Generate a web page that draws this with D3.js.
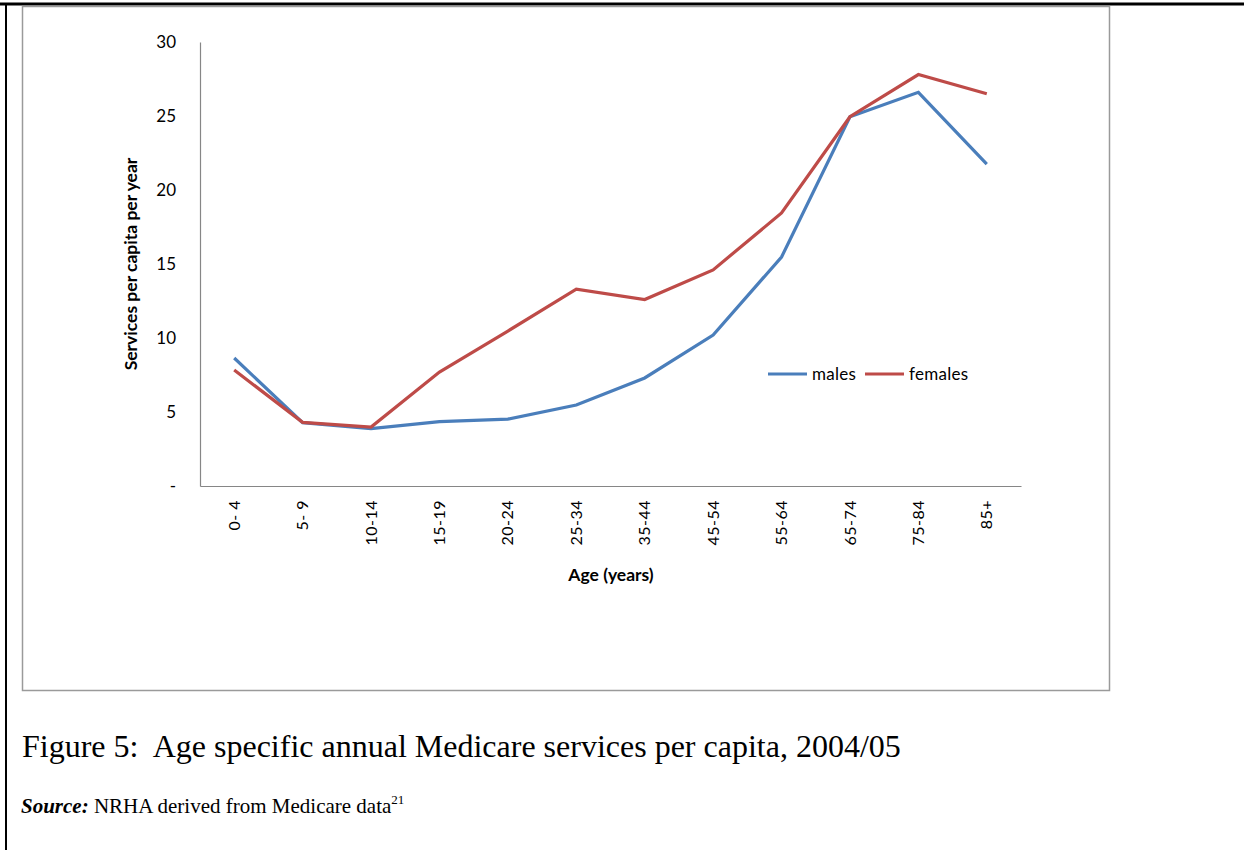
<!DOCTYPE html>
<html><head><meta charset="utf-8">
<script src="https://cdn.jsdelivr.net/npm/d3@7"></script>
<style>body{margin:0;background:#fff;} svg{display:block;}</style>
</head><body>
<svg id="c" width="1244" height="850"></svg>
<script>
const categories = ["0- 4","5- 9","10-14","15-19","20-24","25-34","35-44","45-54","55-64","65-74","75-84","85+"];
const males   = [8.65, 4.28, 3.88, 4.35, 4.52, 5.47, 7.3, 10.2, 15.47, 24.95, 26.6, 21.75];
const females = [7.84, 4.3, 3.98, 7.7, 10.47, 13.3, 12.6, 14.6, 18.45, 24.95, 27.8, 26.5];
const yTicks = [0,5,10,15,20,25,30];
const seriesNames = ["males","females"];
const colors = ["#4A7EBB","#BE4B48"];

const svg = d3.select("#c");
const font = "Lato, 'Open Sans', sans-serif";
const serif = "'Liberation Serif', 'Times New Roman', serif";

// page borders
svg.append("line").attr("x1",0).attr("x2",1244).attr("y1",4).attr("y2",4).attr("stroke","#000").attr("stroke-width",3);
svg.append("line").attr("x1",6).attr("x2",6).attr("y1",3).attr("y2",850).attr("stroke","#000").attr("stroke-width",2);

// chart frame
svg.append("rect").attr("x",22.5).attr("y",6.5).attr("width",1087).attr("height",684)
  .attr("fill","#fff").attr("stroke","#9a9a9a").attr("stroke-width",1.5);

const x = d3.scaleBand().domain(categories).range([200,1021]);
const y = d3.scaleLinear().domain([0,30]).range([486,42]);

// axes
const yAxis = d3.axisLeft(y).tickValues(yTicks).tickSize(0).tickPadding(24)
  .tickFormat(d => d===0 ? "-" : d);
const gy = svg.append("g").attr("transform","translate(200,0)").call(yAxis);
gy.select(".domain").attr("stroke","#868686").attr("stroke-width",1.2);
gy.selectAll("text").attr("font-family",font).attr("font-size",17).attr("fill","#000");

const xAxis = d3.axisBottom(x).tickSize(0).tickPadding(0);
const gx = svg.append("g").attr("transform","translate(0,486)").call(xAxis);
gx.select(".domain").attr("stroke","#868686").attr("stroke-width",1.2);
gx.selectAll("text").attr("font-family",font).attr("font-size",16).attr("fill","#000")
  .attr("letter-spacing","0.5px")
  .attr("transform","rotate(-90)").attr("text-anchor","end")
  .attr("x",-14).attr("y",0).attr("dy","0.35em");

// axis titles
svg.append("text").attr("transform","translate(137,264) rotate(-90)")
  .attr("text-anchor","middle").attr("font-family",font).attr("font-weight","bold").attr("font-size",17.5)
  .text("Services per capita per year");
svg.append("text").attr("x",611).attr("y",581).attr("text-anchor","middle")
  .attr("font-family",font).attr("font-weight","bold").attr("font-size",17.5).text("Age (years)");

// lines
const line = d3.line().x((d,i)=>x(categories[i])+x.bandwidth()/2).y(d=>y(d));
[males,females].forEach((s,k)=>{
  svg.append("path").datum(s).attr("d",line).attr("fill","none")
    .attr("stroke",colors[k]).attr("stroke-width",3.2).attr("stroke-linejoin","miter");
});

// legend
const leg = [{x:768,tx:812},{x:865,tx:909}];
seriesNames.forEach((n,k)=>{
  svg.append("line").attr("x1",leg[k].x).attr("x2",leg[k].x+39).attr("y1",374).attr("y2",374)
    .attr("stroke",colors[k]).attr("stroke-width",3.2);
  svg.append("text").attr("x",leg[k].tx).attr("y",380).attr("font-family",font).attr("font-size",17)
    .attr("letter-spacing","0.3px").text(n);
});

// caption
svg.append("text").attr("x",22).attr("y",757).attr("font-family",serif)
  .attr("font-size",32).attr("xml:space","preserve").text("Figure 5:  Age specific annual Medicare services per capita, 2004/05");
const src = svg.append("text").attr("x",21).attr("y",813).attr("font-family",serif).attr("font-size",21);
src.append("tspan").attr("font-weight","bold").attr("font-style","italic").text("Source:");
src.append("tspan").text(" NRHA derived from Medicare data");
src.append("tspan").attr("font-size",13).attr("dy",-9).text("21");
</script>
</body></html>
